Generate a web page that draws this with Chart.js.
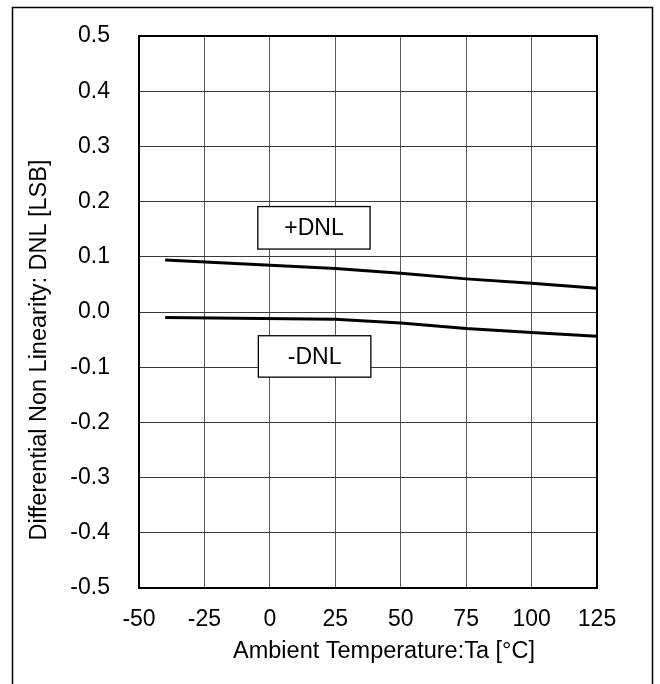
<!DOCTYPE html>
<html>
<head>
<meta charset="utf-8">
<script src="https://cdn.jsdelivr.net/npm/chart.js@4/dist/chart.umd.min.js"></script>
<style>
  html, body { margin: 0; padding: 0; background: #fff; }
  #wrap { width: 660px; height: 684px; position: relative; }
</style>
</head>
<body>
<div id="wrap"><canvas id="dnlChart" width="660" height="684"></canvas></div>
<script>
// values
const temps = [-40, 25, 50, 75, 100, 125];
const plusDnl = [0.094, 0.079, 0.070, 0.060, 0.052, 0.043];
const minusDnl = [-0.010, -0.013, -0.020, -0.030, -0.037, -0.044];
const xTicks = [-50, -25, 0, 25, 50, 75, 100, 125];
const yTicks = [0.5, 0.4, 0.3, 0.2, 0.1, 0.0, -0.1, -0.2, -0.3, -0.4, -0.5];
const seriesLabels = ["+DNL", "-DNL"];
const xTitle = "Ambient Temperature:Ta [°C]";
const yTitle = "Differential Non Linearity: DNL [LSB]";
// label boxes in data units: [xMin, xMax, yTop, yBottom]
const labelBoxes = [
  [-4.6, 38.3, 0.191, 0.114],
  [-4.4, 38.6, -0.043, -0.118]
];

const FONT = "'Liberation Sans', Arial, sans-serif";

const frame = {
  id: "frame",
  afterDraw(chart) {
    const { ctx, chartArea: a, scales } = chart;
    ctx.save();
    // outer border of the figure
    ctx.strokeStyle = "#000";
    ctx.lineWidth = 1.5;
    ctx.beginPath();
    ctx.moveTo(12.5, 700);
    ctx.lineTo(12.5, 7.5);
    ctx.lineTo(652.5, 7.5);
    ctx.lineTo(652.5, 700);
    ctx.stroke();
    // plot box
    ctx.lineWidth = 2;
    ctx.strokeRect(a.left, a.top, a.right - a.left, a.bottom - a.top);

    // axis titles (offset from plot centre as in the original)
    ctx.fillStyle = "#000";
    ctx.font = "23.5px " + FONT;
    ctx.textAlign = "center";
    ctx.textBaseline = "middle";
    ctx.fillText(xTitle, 384, 652);
    ctx.save();
    ctx.translate(40, 350);
    ctx.rotate(-Math.PI / 2);
    ctx.fillText(yTitle, 0, 0);
    ctx.restore();

    // series label boxes
    ctx.font = "23px " + FONT;
    labelBoxes.forEach((b, i) => {
      const x0 = scales.x.getPixelForValue(b[0]);
      const x1 = scales.x.getPixelForValue(b[1]);
      const y0 = scales.y.getPixelForValue(b[2]);
      const y1 = scales.y.getPixelForValue(b[3]);
      ctx.fillStyle = "#fff";
      ctx.fillRect(x0, y0, x1 - x0, y1 - y0);
      ctx.lineWidth = 1.3;
      ctx.strokeStyle = "#000";
      ctx.strokeRect(x0, y0, x1 - x0, y1 - y0);
      ctx.fillStyle = "#000";
      ctx.fillText(seriesLabels[i], (x0 + x1) / 2, (y0 + y1) / 2 + 1);
    });
    ctx.restore();
  }
};

new Chart(document.getElementById("dnlChart").getContext("2d"), {
  type: "line",
  data: {
    datasets: [
      { label: seriesLabels[0], data: temps.map((t, i) => ({ x: t, y: plusDnl[i] })) },
      { label: seriesLabels[1], data: temps.map((t, i) => ({ x: t, y: minusDnl[i] })) }
    ].map(d => Object.assign(d, {
      borderColor: "#000", borderWidth: 3, pointRadius: 0, tension: 0, fill: false
    }))
  },
  options: {
    responsive: false,
    animation: false,
    layout: { padding: { top: 36, right: 63, left: 0, bottom: 0 } },
    plugins: { legend: { display: false }, tooltip: { enabled: false } },
    scales: {
      x: {
        type: "linear", min: -50, max: 125,
        afterBuildTicks: s => { s.ticks = xTicks.map(v => ({ value: v })); },
        afterFit: s => { s.height = 96; s.paddingLeft = 0; s.paddingRight = 0; },
        grid: { color: "#5a5a5a", lineWidth: 1, drawTicks: false },
        border: { display: false },
        ticks: { color: "#000", padding: 18, maxRotation: 0, font: { family: FONT, size: 23 } }
      },
      y: {
        type: "linear", min: -0.5, max: 0.5,
        afterBuildTicks: s => { s.ticks = yTicks.map(v => ({ value: v })); },
        afterFit: s => { s.width = 139; s.paddingTop = 0; s.paddingBottom = 0; },
        grid: { color: "#3a3a3a", lineWidth: 1, drawTicks: false },
        border: { display: false },
        ticks: { color: "#000", padding: 29, font: { family: FONT, size: 23 },
                 callback: v => v.toFixed(1) }
      }
    }
  },
  plugins: [frame]
});
</script>
</body>
</html>
